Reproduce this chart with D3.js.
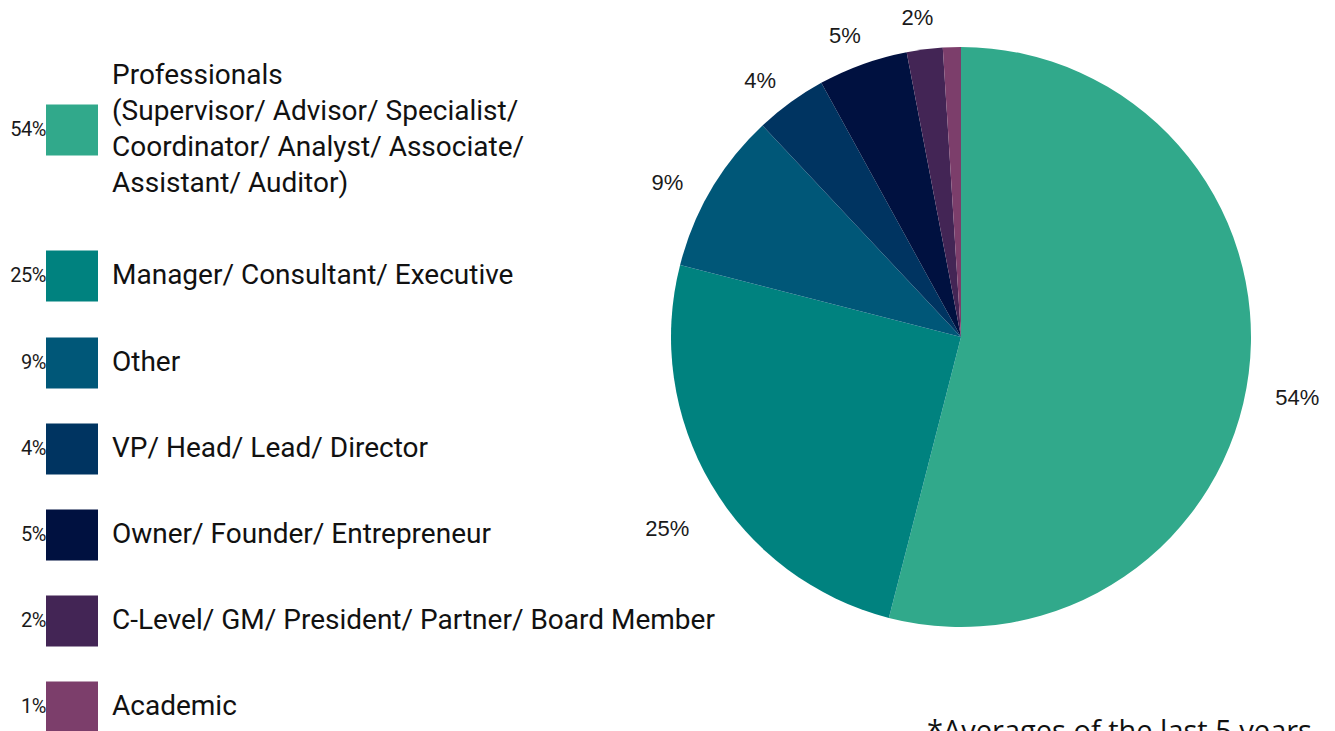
<!DOCTYPE html>
<html>
<head>
<meta charset="utf-8">
<title>Job levels</title>
<script src="https://cdn.jsdelivr.net/npm/d3@7"></script>
<style>
  body { margin: 0; background: #fff; }
  svg { display: block; }
</style>
</head>
<body>
<div id="chart"></div>
<script>
// chart data
var categories = [
  "Professionals\n(Supervisor/ Advisor/ Specialist/\nCoordinator/ Analyst/ Associate/\nAssistant/ Auditor)",
  "Manager/ Consultant/ Executive",
  "Other",
  "VP/ Head/ Lead/ Director",
  "Owner/ Founder/ Entrepreneur",
  "C-Level/ GM/ President/ Partner/ Board Member",
  "Academic"
];
var values = [54, 25, 9, 4, 5, 2, 1];
var sliceLabels = ["54%", "25%", "9%", "4%", "5%", "2%", ""];
var palette = ["#31a98b", "#00827f", "#005778", "#003461", "#001140", "#432555", "#7c3e6b"];
var footnote = "*Averages of the last 5 years";

var W = 1335, H = 731;
var svg = d3.select("#chart").append("svg")
  .attr("width", W).attr("height", H);

var color = d3.scaleOrdinal().domain(d3.range(values.length)).range(palette);

// pie
var cx = 961, cy = 337, R = 290;
var pie = d3.pie().sort(null).value(function(d) { return d; });
var arcs = pie(values);
var arc = d3.arc().innerRadius(0).outerRadius(R);
var labelArc = d3.arc().innerRadius(340).outerRadius(340);

var g = svg.append("g").attr("transform", "translate(" + cx + "," + cy + ")");
g.selectAll("path").data(arcs).enter().append("path")
  .attr("d", arc)
  .attr("fill", function(d, i) { return color(i); });

g.selectAll("text.lbl").data(arcs).enter().append("text")
  .attr("class", "lbl")
  .attr("transform", function(d) {
    var c = labelArc.centroid(d);
    return "translate(" + (c[0] - 1) + "," + (c[1] + 20) + ")";
  })
  .attr("text-anchor", "middle")
  .attr("dominant-baseline", "middle")
  .style("font-family", "'Liberation Sans', Arial, sans-serif")
  .style("font-size", "22px")
  .style("fill", "#1a1a1a")
  .text(function(d, i) { return sliceLabels[i]; });

// legend
var rowY = [130, 276, 363, 449, 535, 621, 707];
var leg = svg.append("g");
var rows = leg.selectAll("g.row").data(categories).enter().append("g")
  .attr("class", "row")
  .attr("transform", function(d, i) { return "translate(0," + rowY[i] + ")"; });

rows.append("rect")
  .attr("x", 46).attr("y", -25.5)
  .attr("width", 52).attr("height", 51)
  .attr("fill", function(d, i) { return color(i); });

rows.append("text")
  .attr("x", 46).attr("y", 1)
  .attr("text-anchor", "end")
  .attr("dominant-baseline", "middle")
  .style("font-family", "Roboto, sans-serif")
  .style("font-size", "20px")
  .style("letter-spacing", "-0.5px")
  .style("fill", "#1a1a1a")
  .text(function(d, i) { return values[i] + "%"; });

rows.each(function(d) {
  var lines = d.split("\n");
  var lh = 36;
  var t = d3.select(this).append("text")
    .attr("x", 112)
    .style("font-family", "Roboto, sans-serif")
    .style("font-size", "28px")
    .style("fill", "#111");
  lines.forEach(function(line, k) {
    t.append("tspan")
      .attr("x", 112)
      .attr("y", (k - (lines.length - 1) / 2) * lh + 1)
      .attr("dominant-baseline", "middle")
      .text(line);
  });
});

svg.append("text")
  .attr("x", 927).attr("y", 741)
  .style("font-family", "'Open Sans', sans-serif")
  .style("font-size", "29px")
  .style("fill", "#111")
  .text(footnote);
</script>
</body>
</html>
